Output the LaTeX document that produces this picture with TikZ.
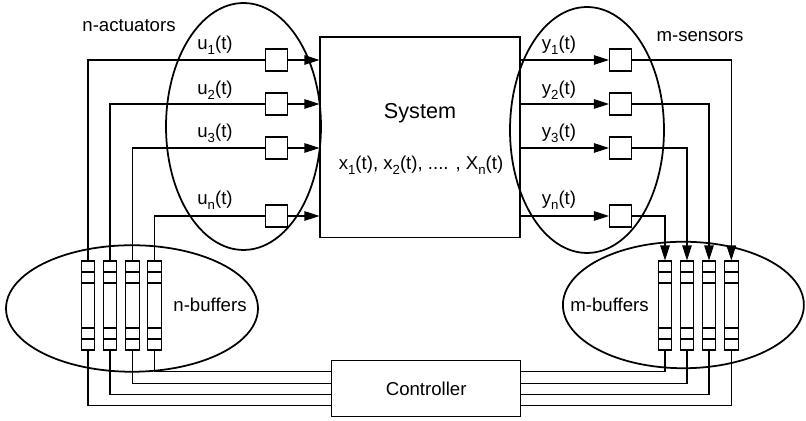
\documentclass[tikz,border=0pt]{standalone}
\usepackage{fontspec}
\setmainfont{Liberation Sans}
\usetikzlibrary{arrows.meta,shapes.geometric}

\newcommand{\lowidx}[1]{\raisebox{-0.5ex}{\fontsize{7.5}{8}\selectfont #1}}

\tikzset{
  blk/.style={draw, line width=0.6pt, inner sep=0pt},
  iobox/.style={blk, minimum width=0.44cm, minimum height=0.44cm},
  bufcol/.style={blk, minimum width=0.27cm, minimum height=1.78cm,
    path picture={
      \foreach \d in {0.22,0.44} {
        \draw[line width=0.6pt] ([yshift=-\d cm]path picture bounding box.north west) -- ([yshift=-\d cm]path picture bounding box.north east);
        \draw[line width=0.6pt] ([yshift=\d cm]path picture bounding box.south west) -- ([yshift=\d cm]path picture bounding box.south east);
      }
    }},
  grp/.style={draw, ellipse, line width=1pt, inner sep=0pt},
  wire/.style={line width=0.6pt},
  arr/.style={wire, -{Triangle[length=0.3cm,width=0.19cm]}},
  lbl/.style={font=\fontsize{10.6}{12}\selectfont, inner sep=0pt},
}

\begin{document}
\begin{tikzpicture}[x=0.02cm, y=-0.02cm]
  \useasboundingbox (0,0) rectangle (806,421);

  % groups
  \node[grp, minimum width=3.1cm, minimum height=4.94cm] (acts) at (243.5,126.5) {};
  \node[grp, minimum width=3.08cm, minimum height=4.92cm] (sens) at (587,130) {};
  \node[grp, minimum width=5.04cm, minimum height=2.53cm] (nbuf) at (132,308.5) {};
  \node[grp, minimum width=4.82cm, minimum height=2.53cm] (mbuf) at (683.4,305) {};

  % system and controller
  \node[blk, minimum width=4cm, minimum height=4.02cm] (sys) at (420,137.5) {};
  \node[lbl, font=\fontsize{12.3}{14}\selectfont] (systxt) at (420,113) {System};
  \node[lbl] (states) at (421,165) {x\lowidx{1}(t), x\lowidx{2}(t), .... , X\lowidx{n}(t)};
  \node[blk, minimum width=3.78cm, minimum height=1.114cm, font=\fontsize{10.6}{12}\selectfont] (ctrl) at (426.2,388.8) {Controller};

  % actuators
  \node[iobox] (a1) at (276.5,60) {};
  \node[iobox] (a2) at (276.5,104) {};
  \node[iobox] (a3) at (276.5,148) {};
  \node[iobox] (a4) at (276.5,216) {};
  \node[lbl] (lu1) at (215,45) {u\lowidx{1}(t)};
  \node[lbl] (lu2) at (215,90) {u\lowidx{2}(t)};
  \node[lbl] (lu3) at (215,133) {u\lowidx{3}(t)};
  \node[lbl] (lu4) at (215,200) {u\lowidx{n}(t)};

  % sensors
  \node[iobox] (s1) at (620.5,60) {};
  \node[iobox] (s2) at (620.5,104) {};
  \node[iobox] (s3) at (620.5,148) {};
  \node[iobox] (s4) at (620.5,216) {};
  \node[lbl] (ly1) at (559,45) {y\lowidx{1}(t)};
  \node[lbl] (ly2) at (559,90) {y\lowidx{2}(t)};
  \node[lbl] (ly3) at (559,133) {y\lowidx{3}(t)};
  \node[lbl] (ly4) at (559,200) {y\lowidx{n}(t)};

  % buffers
  \node[bufcol] (nb1) at (88,305.5) {};
  \node[bufcol] (nb2) at (110,305.5) {};
  \node[bufcol] (nb3) at (132.5,305.5) {};
  \node[bufcol] (nb4) at (154.5,305.5) {};
  \node[bufcol] (mb1) at (665,305.5) {};
  \node[bufcol] (mb2) at (687,305.5) {};
  \node[bufcol] (mb3) at (709,305.5) {};
  \node[bufcol] (mb4) at (731.3,305.5) {};

  \node[lbl] (lacts) at (129,26) {n-actuators};
  \node[lbl] (lsens) at (700,37) {m-sensors};
  \node[lbl] (lnbuf) at (210,305) {n-buffers};
  \node[lbl] (lmbuf) at (609.5,305) {m-buffers};

  % buffers to actuators to system
  \draw[wire] (nb1.north) |- (a1.west);
  \draw[wire] (nb2.north) |- (a2.west);
  \draw[wire] (nb3.north) |- (a3.west);
  \draw[wire] (nb4.north) |- (a4.west);
  \draw[arr] (a1.east) -- (a1.east -| sys.west);
  \draw[arr] (a2.east) -- (a2.east -| sys.west);
  \draw[arr] (a3.east) -- (a3.east -| sys.west);
  \draw[arr] (a4.east) -- (a4.east -| sys.west);

  % system to sensors to buffers
  \draw[arr] (sys.east |- s1.west) -- (s1.west);
  \draw[arr] (sys.east |- s2.west) -- (s2.west);
  \draw[arr] (sys.east |- s3.west) -- (s3.west);
  \draw[arr] (sys.east |- s4.west) -- (s4.west);
  \draw[arr] (s1.east) -| (mb4.north);
  \draw[arr] (s2.east) -| (mb3.north);
  \draw[arr] (s3.east) -| (mb2.north);
  \draw[arr] (s4.east) -| (mb1.north);

  % buffers and controller
  \draw[wire] (nb4.south) |- ([yshift=0.34cm]ctrl.west);
  \draw[wire] (nb3.south) |- ([yshift=0.11cm]ctrl.west);
  \draw[wire] (nb2.south) |- ([yshift=-0.11cm]ctrl.west);
  \draw[wire] (nb1.south) |- ([yshift=-0.34cm]ctrl.west);
  \draw[wire] (mb1.south) |- ([yshift=0.34cm]ctrl.east);
  \draw[wire] (mb2.south) |- ([yshift=0.11cm]ctrl.east);
  \draw[wire] (mb3.south) |- ([yshift=-0.11cm]ctrl.east);
  \draw[wire] (mb4.south) |- ([yshift=-0.34cm]ctrl.east);
\end{tikzpicture}
\end{document}
